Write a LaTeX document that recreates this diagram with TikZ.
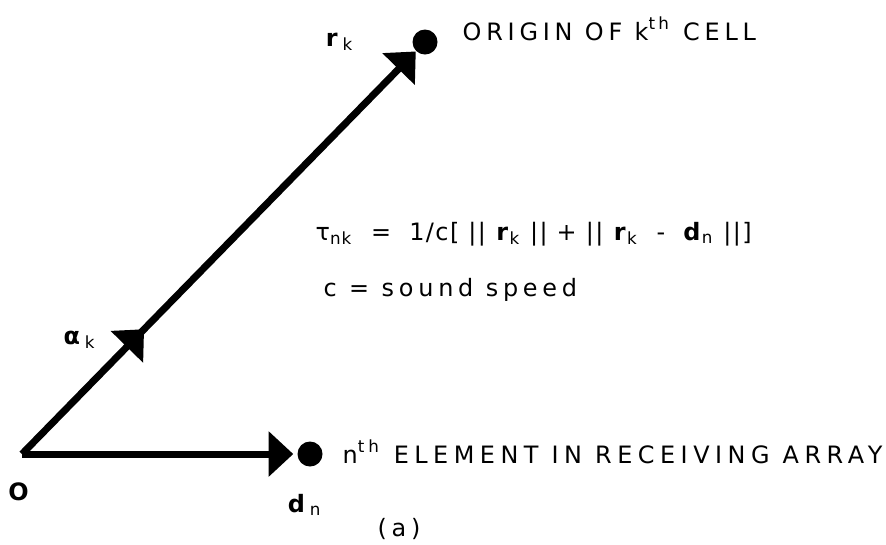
\documentclass[tikz,border=0pt]{standalone}
\usepackage{fontspec}
\setmainfont{DejaVu Sans}[LetterSpace=20]
\newfontfamily\tightfont{DejaVu Sans}[LetterSpace=6]
\newfontfamily\widefont{DejaVu Sans}[LetterSpace=23]
\usetikzlibrary{arrows.meta,positioning,decorations.markings}
\tikzset{vec/.style={line width=2pt,black},tipend/.style={-{Triangle[width=12.5pt,length=7pt]}},dot/.style={circle,fill=black,inner sep=0pt,minimum size=0.25cm},lbl/.style={font=\fontsize{6.8}{8}\selectfont,inner sep=0pt},midtip/.style={postaction={decorate},decoration={markings,mark=at position #1 with {\arrow{Triangle[width=12.5pt,length=7pt]}}}}}

\begin{document}
\begin{tikzpicture}[x=0.01cm,y=-0.01cm]
\useasboundingbox (0,0) rectangle (886,544);
\coordinate (O) at (22,454);
\node[dot] (cell) at (425,42) {};
\node[dot] (elem) at (310,454) {};
\draw[vec,tipend,midtip=0.31] (O)--(cell);
\draw[vec,tipend,shorten >=1pt] (O)--(elem);
\node[lbl,anchor=base west] (celltext) at (462,40) {ORIGIN OF k\textsuperscript{th} CELL};
\node[lbl,anchor=base west] (elemtext) at (342,463) {\widefont n\textsuperscript{th} ELEMENT IN RECEIVING ARRAY};
\node[lbl] (rk) at (340,42) {\textbf{r}\textsubscript{k}};
\node[lbl] (ak) at (80,340) {\textbf{α}\textsubscript{k}};
\node[lbl] (olbl) at (21,492) {\textbf{O}};
\node[lbl] (dn) at (305,505) {\textbf{d}\textsubscript{n}};
\node[lbl] (sub) at (399,529) {(a)};
\node[lbl,anchor=base west] (tau) at (315,240) {\tightfont τ\textsubscript{nk} \ = \ 1/c[ || \textbf{r}\textsubscript{k} || + || \textbf{r}\textsubscript{k} \ - \ \textbf{d}\textsubscript{n} ||]};
\node[lbl,anchor=base west] (speed) at (323,296) {c = sound speed};
\end{tikzpicture}
\end{document}
